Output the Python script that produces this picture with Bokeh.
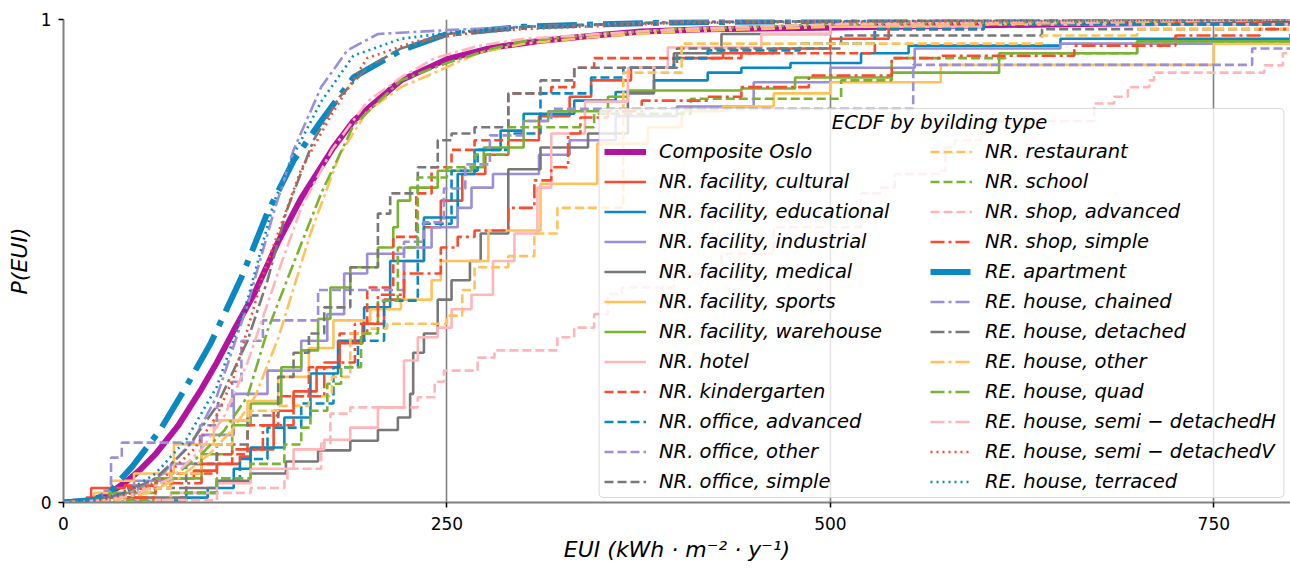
from bokeh.plotting import figure
from bokeh.models import (Range1d, Legend, LegendItem, Label, BoxAnnotation,
                          FixedTicker)
from bokeh.embed import file_html
from bokeh.resources import INLINE

# ---------------------------------------------------------------------------
# ECDF breakpoints per building type: EUI (kWh/m2/y) and cumulative share
# ---------------------------------------------------------------------------
composite_eui = [0, 15, 25, 35, 42, 50, 60, 75, 89, 100, 111, 124, 140, 155, 176, 189, 200, 220, 250, 280, 311, 350, 377, 420, 496, 600, 700, 800]
composite_p = [0, 0.003, 0.012, 0.03, 0.046, 0.068, 0.1, 0.16, 0.23, 0.29, 0.356, 0.43, 0.54, 0.63, 0.735, 0.79, 0.82, 0.874, 0.918, 0.942, 0.956, 0.968, 0.975, 0.98, 0.983, 0.988, 0.992, 0.995]

cultural_eui = [0, 18, 40, 60, 85, 100, 115, 122, 137, 150, 165, 180, 195, 209, 222, 235, 246, 260, 275, 290, 310, 330, 344, 370, 398, 430, 463, 500, 538, 600, 700, 800]
cultural_p = [0, 0.03, 0.035, 0.05, 0.066, 0.08, 0.095, 0.11, 0.19, 0.23, 0.28, 0.33, 0.37, 0.42, 0.5, 0.57, 0.625, 0.68, 0.72, 0.75, 0.8, 0.84, 0.874, 0.9, 0.92, 0.93, 0.94, 0.96, 0.987, 0.99, 0.995, 1]

educational_eui = [0, 40, 60, 76, 94, 111, 122, 144, 161, 179, 196, 213, 235, 257, 268, 285, 300, 333, 360, 385, 420, 442, 474, 520, 551, 650, 800]
educational_p = [0, 0.002, 0.004, 0.01, 0.03, 0.07, 0.114, 0.176, 0.267, 0.335, 0.404, 0.5, 0.59, 0.68, 0.73, 0.77, 0.805, 0.832, 0.85, 0.874, 0.89, 0.9, 0.91, 0.93, 0.946, 0.96, 0.97]

industrial_eui = [0, 25, 46, 70, 90, 111, 133, 155, 172, 183, 198, 222, 240, 257, 266, 280, 310, 330, 360, 400, 450, 500, 555, 650, 800]
industrial_p = [0, 0.01, 0.045, 0.08, 0.14, 0.225, 0.273, 0.335, 0.39, 0.474, 0.515, 0.528, 0.57, 0.61, 0.652, 0.68, 0.72, 0.75, 0.8, 0.82, 0.87, 0.9, 0.94, 0.95, 0.96]

medical_eui = [0, 40, 80, 100, 122, 145, 166, 187, 205, 218, 226, 228, 235, 244, 253, 265, 272, 290, 311, 342, 368, 385, 398, 429, 500, 600, 800]
medical_p = [0, 0.01, 0.03, 0.045, 0.06, 0.085, 0.108, 0.128, 0.15, 0.176, 0.225, 0.31, 0.35, 0.42, 0.46, 0.5, 0.557, 0.69, 0.735, 0.764, 0.847, 0.9, 0.93, 0.97, 0.985, 0.99, 1]

sports_eui = [0, 20, 31, 46, 72, 98, 120, 140, 160, 176, 200, 220, 240, 246, 277, 311, 348, 381, 403, 430, 463, 500, 572, 750, 800]
sports_p = [0, 0.02, 0.045, 0.06, 0.12, 0.17, 0.21, 0.26, 0.32, 0.377, 0.4, 0.42, 0.46, 0.5, 0.563, 0.66, 0.743, 0.777, 0.81, 0.82, 0.847, 0.87, 0.906, 0.95, 0.95]

warehouse_eui = [0, 30, 60, 90, 110, 122, 142, 155, 166, 174, 187, 205, 215, 218, 226, 244, 266, 274, 300, 316, 355, 368, 442, 477, 540, 610, 700, 800]
warehouse_p = [0, 0.02, 0.05, 0.1, 0.16, 0.205, 0.28, 0.315, 0.38, 0.445, 0.487, 0.528, 0.57, 0.625, 0.652, 0.687, 0.694, 0.735, 0.79, 0.81, 0.84, 0.853, 0.857, 0.88, 0.89, 0.93, 0.955, 0.965]

hotel_eui = [0, 40, 70, 100, 122, 150, 170, 187, 205, 222, 231, 244, 253, 266, 280, 294, 309, 318, 340, 368, 394, 455, 500, 600, 800]
hotel_p = [0, 0.005, 0.02, 0.04, 0.07, 0.11, 0.13, 0.155, 0.197, 0.294, 0.342, 0.362, 0.4, 0.43, 0.5, 0.557, 0.652, 0.764, 0.83, 0.9, 0.942, 0.97, 0.985, 0.99, 1]

kindergarten_eui = [0, 15, 40, 70, 100, 120, 140, 160, 180, 198, 215, 230, 240, 253, 268, 290, 318, 333, 346, 442, 529, 600, 800]
kindergarten_p = [0, 0.01, 0.03, 0.06, 0.1, 0.16, 0.22, 0.28, 0.35, 0.445, 0.55, 0.64, 0.694, 0.73, 0.75, 0.847, 0.86, 0.9, 0.92, 0.93, 0.98, 0.99, 0.995]

office_adv_eui = [0, 30, 60, 80, 100, 115, 133, 155, 176, 192, 209, 231, 253, 270, 290, 311, 344, 365, 398, 420, 480, 529, 600, 800]
office_adv_p = [0, 0.002, 0.004, 0.02, 0.05, 0.09, 0.155, 0.205, 0.28, 0.335, 0.418, 0.577, 0.687, 0.73, 0.764, 0.847, 0.88, 0.9, 0.92, 0.936, 0.95, 0.98, 0.99, 1]

office_other_eui = [0, 25, 31, 38, 89, 100, 110, 116, 130, 166, 222, 235, 248, 262, 278, 300, 318, 554, 775, 800]
office_other_p = [0, 0.025, 0.093, 0.124, 0.16, 0.2, 0.25, 0.335, 0.377, 0.44, 0.54, 0.58, 0.65, 0.7, 0.76, 0.79, 0.815, 0.906, 0.94, 0.94]

office_simple_eui = [0, 20, 50, 80, 100, 120, 140, 150, 160, 170, 187, 205, 213, 231, 244, 253, 268, 290, 311, 333, 400, 507, 638, 800]
office_simple_p = [0, 0.005, 0.03, 0.08, 0.12, 0.18, 0.26, 0.31, 0.35, 0.404, 0.487, 0.598, 0.64, 0.694, 0.75, 0.764, 0.777, 0.847, 0.874, 0.9, 0.94, 0.967, 0.98, 0.99]

restaurant_eui = [0, 20, 50, 70, 90, 110, 122, 140, 160, 175, 187, 200, 211, 250, 260, 268, 290, 307, 322, 365, 403, 638, 700, 800]
restaurant_p = [0, 0.005, 0.03, 0.06, 0.12, 0.17, 0.19, 0.2, 0.22, 0.26, 0.35, 0.36, 0.37, 0.387, 0.44, 0.487, 0.51, 0.557, 0.61, 0.89, 0.95, 0.967, 0.98, 0.99]

school_eui = [0, 40, 70, 100, 122, 144, 155, 161, 172, 181, 194, 205, 218, 231, 250, 268, 290, 346, 409, 507, 540, 614, 700, 800]
school_p = [0, 0.005, 0.02, 0.05, 0.08, 0.12, 0.155, 0.19, 0.246, 0.28, 0.35, 0.418, 0.528, 0.673, 0.694, 0.72, 0.777, 0.805, 0.836, 0.874, 0.92, 0.93, 0.955, 0.963]

shop_adv_eui = [0, 60, 100, 122, 144, 146, 168, 174, 187, 231, 242, 248, 270, 281, 322, 333, 346, 355, 364, 398, 429, 463, 520, 533, 542, 572, 575, 581, 598, 607, 672, 685, 694, 708, 711, 783, 795, 800]
shop_adv_p = [0, 0.005, 0.02, 0.03, 0.046, 0.07, 0.122, 0.184, 0.197, 0.218, 0.25, 0.273, 0.3, 0.315, 0.342, 0.362, 0.39, 0.432, 0.445, 0.474, 0.515, 0.57, 0.64, 0.652, 0.68, 0.687, 0.735, 0.75, 0.764, 0.79, 0.826, 0.84, 0.86, 0.874, 0.89, 0.905, 0.93, 0.93]

shop_simple_eui = [0, 30, 60, 90, 110, 130, 150, 170, 190, 205, 222, 246, 257, 268, 290, 307, 318, 329, 337, 355, 377, 420, 442, 486, 540, 572, 659, 725, 780, 800]
shop_simple_p = [0, 0.01, 0.04, 0.08, 0.11, 0.16, 0.22, 0.29, 0.37, 0.43, 0.474, 0.528, 0.55, 0.563, 0.61, 0.667, 0.694, 0.764, 0.797, 0.81, 0.832, 0.84, 0.86, 0.884, 0.92, 0.925, 0.946, 0.967, 0.98, 0.98]

apartment_eui = [0, 20, 30, 35, 45, 63, 80, 96, 116, 133, 150, 168, 189, 220, 250, 300, 350, 400, 500, 600, 800]
apartment_p = [0, 0.005, 0.02, 0.04, 0.075, 0.15, 0.24, 0.33, 0.466, 0.6, 0.708, 0.79, 0.88, 0.936, 0.97, 0.985, 0.99, 0.994, 0.997, 0.999, 1.0]

chained_eui = [0, 25, 45, 65, 85, 100, 120, 137, 150, 168, 185, 205, 250, 300, 400, 800]
chained_p = [0, 0.005, 0.02, 0.06, 0.13, 0.22, 0.41, 0.6, 0.73, 0.86, 0.936, 0.97, 0.978, 0.985, 0.995, 1]

detached_eui = [0, 20, 40, 60, 80, 100, 120, 133, 145, 163, 180, 198, 220, 250, 300, 400, 800]
detached_p = [0, 0.005, 0.02, 0.05, 0.11, 0.2, 0.335, 0.46, 0.6, 0.75, 0.84, 0.9, 0.94, 0.97, 0.985, 0.995, 1]

house_other_eui = [0, 30, 55, 75, 95, 110, 125, 140, 161, 180, 198, 220, 242, 270, 300, 350, 400, 500, 800]
house_other_p = [0, 0.005, 0.02, 0.05, 0.1, 0.15, 0.22, 0.34, 0.557, 0.72, 0.81, 0.86, 0.89, 0.93, 0.95, 0.965, 0.975, 0.985, 1]

quad_eui = [0, 30, 50, 70, 90, 105, 120, 133, 150, 168, 189, 220, 250, 280, 300, 350, 400, 500, 800]
quad_p = [0, 0.005, 0.02, 0.05, 0.1, 0.15, 0.22, 0.356, 0.495, 0.64, 0.78, 0.874, 0.91, 0.94, 0.955, 0.97, 0.98, 0.99, 1]

semi_h_eui = [0, 30, 50, 70, 90, 105, 120, 142, 155, 175, 198, 220, 242, 270, 300, 400, 500, 800]
semi_h_p = [0, 0.005, 0.02, 0.05, 0.11, 0.18, 0.29, 0.495, 0.61, 0.73, 0.83, 0.88, 0.92, 0.945, 0.96, 0.98, 0.99, 1]

semi_v_eui = [0, 25, 45, 65, 85, 100, 111, 131, 155, 176, 198, 230, 260, 300, 400, 800]
semi_v_p = [0, 0.005, 0.02, 0.05, 0.11, 0.18, 0.26, 0.48, 0.69, 0.81, 0.92, 0.955, 0.97, 0.98, 0.993, 1]

terraced_eui = [0, 20, 40, 60, 80, 100, 120, 137, 150, 168, 189, 220, 250, 300, 400, 500, 800]
terraced_p = [0, 0.005, 0.02, 0.06, 0.13, 0.24, 0.42, 0.62, 0.72, 0.83, 0.925, 0.96, 0.972, 0.985, 0.993, 0.997, 1]

# ---------------------------------------------------------------------------
# Styling
# ---------------------------------------------------------------------------
RED, BLUE, PURPLE, GRAY = "#F94B2D", "#0A88C2", "#9A8FD9", "#787878"
YELLOW, GREEN, PINK, MAGENTA = "#FFC25A", "#79B431", "#FFB5B9", "#B3149F"
SOLID, DASHED, DASHDOT, DOTTED = "solid", "9 4", "14 4 3 4", "2 4"
FONT = "DejaVu Sans"
LW = 2.6

# (label, eui, p, colour, dash, width, drawn as step)
series = [
    ("Composite Oslo", composite_eui, composite_p, MAGENTA, SOLID, 6, False),
    ("NR. facility, cultural", cultural_eui, cultural_p, RED, SOLID, LW, True),
    ("NR. facility, educational", educational_eui, educational_p, BLUE, SOLID, LW, True),
    ("NR. facility, industrial", industrial_eui, industrial_p, PURPLE, SOLID, LW, True),
    ("NR. facility, medical", medical_eui, medical_p, GRAY, SOLID, LW, True),
    ("NR. facility, sports", sports_eui, sports_p, YELLOW, SOLID, LW, True),
    ("NR. facility, warehouse", warehouse_eui, warehouse_p, GREEN, SOLID, LW, True),
    ("NR. hotel", hotel_eui, hotel_p, PINK, SOLID, LW, True),
    ("NR. kindergarten", kindergarten_eui, kindergarten_p, RED, DASHED, LW, True),
    ("NR. office, advanced", office_adv_eui, office_adv_p, BLUE, DASHED, LW, True),
    ("NR. office, other", office_other_eui, office_other_p, PURPLE, DASHED, LW, True),
    ("NR. office, simple", office_simple_eui, office_simple_p, GRAY, DASHED, LW, True),
    ("NR. restaurant", restaurant_eui, restaurant_p, YELLOW, DASHED, LW, True),
    ("NR. school", school_eui, school_p, GREEN, DASHED, LW, True),
    ("NR. shop, advanced", shop_adv_eui, shop_adv_p, PINK, DASHED, LW, True),
    ("NR. shop, simple", shop_simple_eui, shop_simple_p, RED, DASHDOT, LW, True),
    ("RE. apartment", apartment_eui, apartment_p, BLUE, "40 10 6 10", 6, False),
    ("RE. house, chained", chained_eui, chained_p, PURPLE, DASHDOT, LW, False),
    ("RE. house, detached", detached_eui, detached_p, GRAY, DASHDOT, LW, False),
    ("RE. house, other", house_other_eui, house_other_p, YELLOW, DASHDOT, LW, False),
    ("RE. house, quad", quad_eui, quad_p, GREEN, DASHDOT, LW, False),
    ("RE. house, semi − detachedH", semi_h_eui, semi_h_p, PINK, DASHDOT, LW, False),
    ("RE. house, semi − detachedV", semi_v_eui, semi_v_p, RED, DOTTED, LW, False),
    ("RE. house, terraced", terraced_eui, terraced_p, BLUE, DOTTED, LW, False),
]

p = figure(width=1290, height=569, x_range=Range1d(0, 800), y_range=Range1d(0, 1),
           output_backend="svg", toolbar_location=None,
           min_border_left=63, min_border_right=0, min_border_top=19, min_border_bottom=67,
           outline_line_color=None, background_fill_color="white", border_fill_color="white")

# grid
p.xgrid.ticker = FixedTicker(ticks=[0, 250, 500, 750])
p.ygrid.ticker = FixedTicker(ticks=[0, 1])
for g in (p.xgrid, p.ygrid):
    g.grid_line_color = "#808080"
    g.grid_line_width = 1.6

# axes
p.xaxis.ticker = FixedTicker(ticks=[0, 250, 500, 750])
p.yaxis.ticker = FixedTicker(ticks=[0, 1])
p.xaxis.axis_label = "EUI (kWh · m⁻² · y⁻¹)"
p.yaxis.axis_label = "P(EUI)"
for ax in (p.xaxis, p.yaxis):
    ax.axis_line_color = "#808080"
    ax.axis_line_width = 2
    ax.major_tick_line_color = "black"
    ax.major_tick_line_width = 1.5
    ax.major_tick_out = 5
    ax.major_tick_in = 0
    ax.minor_tick_line_color = None
    ax.major_label_text_font = FONT
    ax.major_label_text_font_size = "17px"
    ax.major_label_text_color = "black"
    ax.axis_label_text_font = FONT
    ax.axis_label_text_font_size = "22px"
    ax.axis_label_text_font_style = "italic"
    ax.axis_label_text_color = "black"
p.xaxis.major_label_standoff = 9
p.xaxis.axis_label_standoff = 4
p.yaxis.major_label_standoff = 7
p.yaxis.axis_label_standoff = 6

items = []
for label, xs, ys, color, dash, width, stepped in series:
    if stepped:
        r = p.step(xs, ys, mode="after", line_color=color, line_width=width, line_dash=dash)
    else:
        r = p.line(xs, ys, line_color=color, line_width=width, line_dash=dash)
    items.append(LegendItem(label=label, renderers=[r]))

# legend background panel
p.add_layout(BoxAnnotation(left=349.2, right=795.7, bottom=0.0104, top=0.8157,
                           fill_color="white", fill_alpha=0.8,
                           line_color="#d0d0d0", line_alpha=0.8, line_width=1,
                           border_radius=4))


def make_legend(its, loc):
    leg = Legend(items=its, location=loc, padding=0, margin=0, spacing=5,
                 glyph_width=42, glyph_height=25, label_height=25, label_standoff=13,
                 label_text_font=FONT, label_text_font_size="19.5px",
                 label_text_font_style="italic", label_text_color="black",
                 background_fill_alpha=0, border_line_color=None)
    return leg


p.add_layout(make_legend(items[:12], (541, 8)), "center")
p.add_layout(make_legend(items[12:], (867, 8)), "center")

p.add_layout(Label(x=571.2, y=0.787, text="ECDF by byilding type", text_align="center",
                   text_baseline="middle", text_font=FONT, text_font_size="19.5px",
                   text_font_style="italic", text_color="black"))

open("out.html", "w").write(file_html(p, INLINE))
